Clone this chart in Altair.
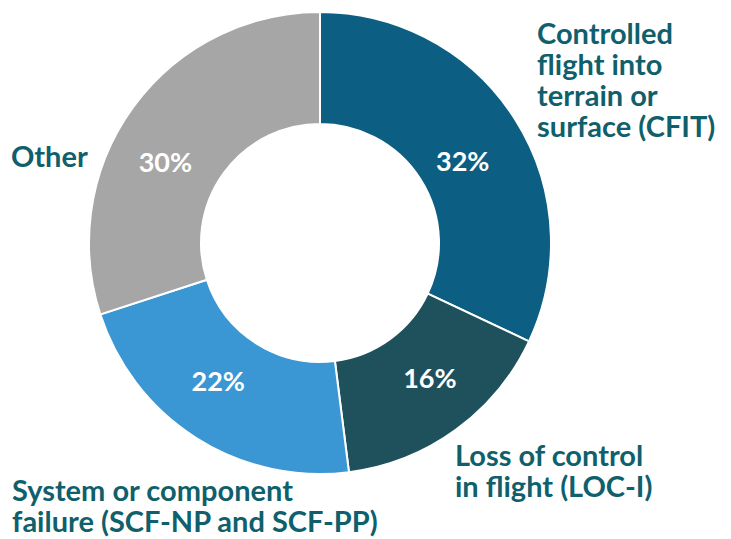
import altair as alt
import pandas as pd
import math

categories = ["CFIT", "LOC-I", "SCF", "Other"]
labels = [
    "Controlled\nflight into\nterrain or\nsurface (CFIT)",
    "Loss of control\nin flight (LOC-I)",
    "System or component\nfailure (SCF-NP and SCF-PP)",
    "Other",
]
shares = [32, 16, 22, 30]
colors = ["#0c5f82", "#1f515d", "#3a97d4", "#a6a6a6"]

df = pd.DataFrame({
    "cat": categories,
    "label": labels,
    "share": shares,
    "order": list(range(len(categories))),
})
df["pct"] = df["share"].astype(str) + "%"

FONT = "Lato"
TEXT_COLOR = "#0f5f6c"

theta_scale = alt.Scale(domain=[0, 100], range=[0, 2 * math.pi])

color = alt.Color("cat:N", scale=alt.Scale(domain=categories, range=colors), legend=None)

arcs = alt.Chart().mark_arc(radius=231, radius2=119, stroke="white", strokeWidth=2).encode(
    theta=alt.Theta("start:Q", scale=theta_scale),
    theta2="end:Q",
    color=color,
)

# Label nudges relative to each slice's mid-angle anchor
pct_nudge = {
    "CFIT": (-5, 14),
    "LOC-I": (7, -5),
    "SCF": (-8, -8),
    "Other": (-13, 24),
}
label_place = {
    "CFIT": ("left", 6, -74),
    "LOC-I": ("left", -12, 12),
    "SCF": ("left", -174, 38),
    "Other": ("right", -30, 62),
}

layers = [arcs]
for c in categories:
    ndx, ndy = pct_nudge[c]
    layers.append(
        alt.Chart().mark_text(
            radius=175, font=FONT, fontWeight="bold", fontSize=27, color="white",
            dx=ndx, dy=ndy,
        ).encode(
            theta=alt.Theta("mid:Q", scale=theta_scale),
            text="pct:N",
        ).transform_filter(alt.datum.cat == c)
    )
    al, ldx, ldy = label_place[c]
    layers.append(
        alt.Chart().mark_text(
            radius=250, font=FONT, fontWeight="bold", fontSize=29, lineHeight=31,
            color=TEXT_COLOR, align=al, baseline="middle", dx=ldx, dy=ldy,
        ).encode(
            theta=alt.Theta("mid:Q", scale=theta_scale),
            text="label_lines:N",
        ).transform_filter(alt.datum.cat == c)
    )

chart = alt.layer(*layers, data=df).transform_window(
    end="sum(share)", sort=[alt.SortField("order")], frame=[None, 0]
).transform_calculate(
    start="datum.end - datum.share",
    mid="datum.end - datum.share / 2",
    label_lines="split(datum.label, '\\n')",
).properties(width=624, height=464, padding=0).configure_view(stroke=None)

chart.save("out.html", embed_options={"renderer": "svg", "actions": False})
